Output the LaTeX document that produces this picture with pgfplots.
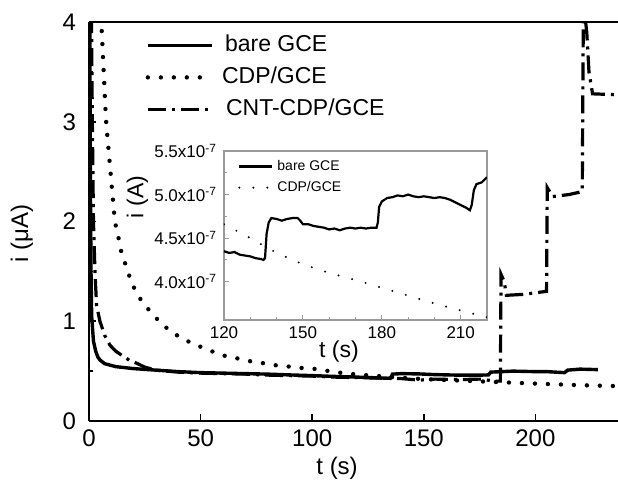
\documentclass[border=0pt]{standalone}
\usepackage{fontspec}
\setmainfont{Liberation Sans}
\usepackage{pgfplots}
\pgfplotsset{compat=1.18}

\begin{document}
\begin{tikzpicture}
\useasboundingbox (-44.5pt,-29pt) rectangle (264.5pt,210.5pt);
% main chronoamperogram
\begin{axis}[name=main,scale only axis,width=264.5pt,height=199.5pt,at={(0,0)},anchor=south west,
xmin=0,xmax=237,ymin=0,ymax=4,
xtick={0,50,100,150,200},ytick={0,1,2,3,4},minor y tick num=1,
axis y line*=left,tick pos=left,tick align=inside,
major tick length=3.5pt,minor tick length=2pt,
axis line style={line width=0.9pt},every tick/.style={line width=0.8pt,black},
ticklabel style={font=\fontsize{12}{12}\selectfont},
yticklabel style={xshift=-3pt},xticklabel style={yshift=-1pt},
/pgf/number format/assume math mode=true,
xlabel={t (s)},ylabel={i (μA)},label style={font=\fontsize{12}{14}\selectfont},
xlabel style={at={(axis description cs:0.469,-0.118)},anchor=center},
ylabel style={at={(axis description cs:-0.127,0.47)},anchor=center},
legend style={draw=none,fill=none,at={(axis description cs:0.095,0.985)},anchor=north west,
  font=\fontsize{11.5}{11.5}\selectfont,row sep=3pt,
  nodes={text height=8.5pt,text depth=2.5pt,inner ysep=1pt}},legend cell align=left,
legend image code/.code={\draw[#1] (0pt,0pt) -- (32pt,0pt);}]
\addplot[black,line width=1.7pt] coordinates {(0.3,4.4)(0.6,2.5)(0.9,1.5)(1.2,1.05)(2,0.80)(3,0.70)(4,0.64)(5,0.61)(7,0.575)(9.4,0.56)(12,0.545)(16,0.535)(20,0.525)(30,0.51)(40,0.495)(50,0.485)(60,0.48)(70,0.475)(80,0.47)(90,0.462)(100,0.455)(110,0.447)(120,0.44)(130,0.432)(135,0.428)(136,0.47)(140,0.475)(148,0.472)(155,0.465)(165,0.46)(175,0.46)(179,0.462)(180,0.49)(190,0.50)(200,0.495)(205,0.495)(213,0.485)(214.5,0.51)(220,0.52)(228,0.515)};
\addplot[black,line width=2.2pt,line cap=round,dash pattern=on 0pt off 6.5pt] coordinates {(5.3,4.3)(5.7,3.92)(7.6,3.02)(10.2,2.35)(11.6,2.0)(13.1,1.85)(14.6,1.68)(17,1.53)(19.1,1.38)(22.8,1.23)(27.3,1.10)(33.1,0.96)(40,0.85)(46,0.78)(52.7,0.72)(59.4,0.66)(66,0.63)(72,0.60)(78,0.58)(83,0.56)(90,0.545)(96,0.53)(102.5,0.52)(110,0.49)(120,0.466)(130,0.45)(140,0.433)(150,0.42)(160,0.41)(170,0.402)(180,0.393)(190,0.384)(200,0.375)(210,0.367)(220,0.359)(237,0.35)};
\addplot[black,line width=1.6pt,dash pattern=on 9pt off 3pt on 1.5pt off 3pt] coordinates {(1.0,4.4)(1.5,3.0)(2,2.0)(2.7,1.48)(3.4,1.16)(4.9,1.0)(7,0.86)(9.4,0.76)(12,0.70)(14.6,0.66)(18,0.61)(21.3,0.58)(25,0.54)(30,0.51)(40,0.49)(50,0.48)(60,0.475)(70,0.47)(80,0.46)(90,0.455)(100,0.45)(110,0.44)(120,0.435)(130,0.43)(140,0.425)(148,0.41)(155,0.42)(165,0.415)(175,0.42)(182,0.40)(184.3,0.40)(184.6,1.47)(186,1.40)(187,1.26)(195,1.27)(205,1.30)(205.3,2.34)(207.7,2.25)(215,2.27)(221,2.30)(221.5,4.2)(223,3.9)(224,3.5)(225.6,3.28)(237,3.27)};
\legend{\hspace{3.5pt}bare GCE,\hspace{2pt}CDP/GCE,\hspace{4pt}CNT-CDP/GCE}
\end{axis}
% inset, current in units of 1e-7 A
\begin{axis}[scale only axis,width=131.5pt,height=84.5pt,at={(67.5pt,50.5pt)},anchor=south west,
xmin=120,xmax=220,ymin=3.56,ymax=5.5,
xtick={120,150,180,210},minor x tick num=2,
ytick={4,4.5,5,5.5},minor y tick num=1,
yticklabels={4.0x10\textsuperscript{-7},4.5x10\textsuperscript{-7},5.0x10\textsuperscript{-7},5.5x10\textsuperscript{-7}},
tick pos=left,tick align=inside,major tick length=2.5pt,minor tick length=1.5pt,
axis line style={gray!80,line width=0.6pt},every tick/.style={gray!80,line width=0.5pt},
axis background/.style={fill=white},
ticklabel style={font=\fontsize{8.5}{8.5}\selectfont},
/pgf/number format/assume math mode=true,
xlabel={t (s)},ylabel={i (A)},label style={font=\fontsize{11.5}{13}\selectfont},
xlabel style={at={(axis description cs:0.437,-0.189)},anchor=center},
ylabel style={at={(axis description cs:-0.329,0.728)},anchor=center},
legend style={draw=none,fill=none,at={(axis description cs:0.045,0.985)},anchor=north west,
  font=\fontsize{7}{7}\selectfont,row sep=0pt,inner sep=1pt},legend cell align=left,
legend image code/.code={\draw[#1] (0pt,0pt) -- (16.5pt,0pt);}]
\addplot[black,line width=1.1pt] coordinates {(120,4.35)(122,4.33)(124,4.34)(126,4.31)(128,4.30)(130,4.29)(132,4.27)(134,4.26)(135,4.25)(135.6,4.27)(136.2,4.55)(137,4.68)(138,4.73)(140,4.72)(142,4.70)(144,4.72)(146,4.73)(148,4.73)(149,4.70)(150,4.66)(152,4.66)(154,4.64)(156,4.63)(158,4.62)(160,4.60)(162,4.61)(164,4.59)(166,4.61)(168,4.62)(170,4.61)(172,4.62)(174,4.61)(176,4.62)(178,4.62)(178.5,4.68)(179,4.86)(180,4.92)(182,4.96)(184,4.97)(186,4.99)(188,4.98)(190,5.0)(192,4.98)(194,4.97)(196,4.98)(198,4.97)(200,4.96)(202,4.97)(204,4.96)(206,4.94)(208,4.91)(210,4.88)(212,4.85)(213.5,4.82)(214.2,4.88)(215,5.05)(216,5.12)(218,5.14)(220,5.2)};
\addplot[black,line width=1.1pt,line cap=round,dash pattern=on 0pt off 7pt] coordinates {(120,4.66)(130,4.5)(140,4.33)(150,4.2)(160,4.1)(170,4.02)(180,3.93)(190,3.84)(200,3.75)(210,3.67)(220,3.59)};
\legend{bare GCE,CDP/GCE}
\end{axis}
\end{tikzpicture}
\end{document}
